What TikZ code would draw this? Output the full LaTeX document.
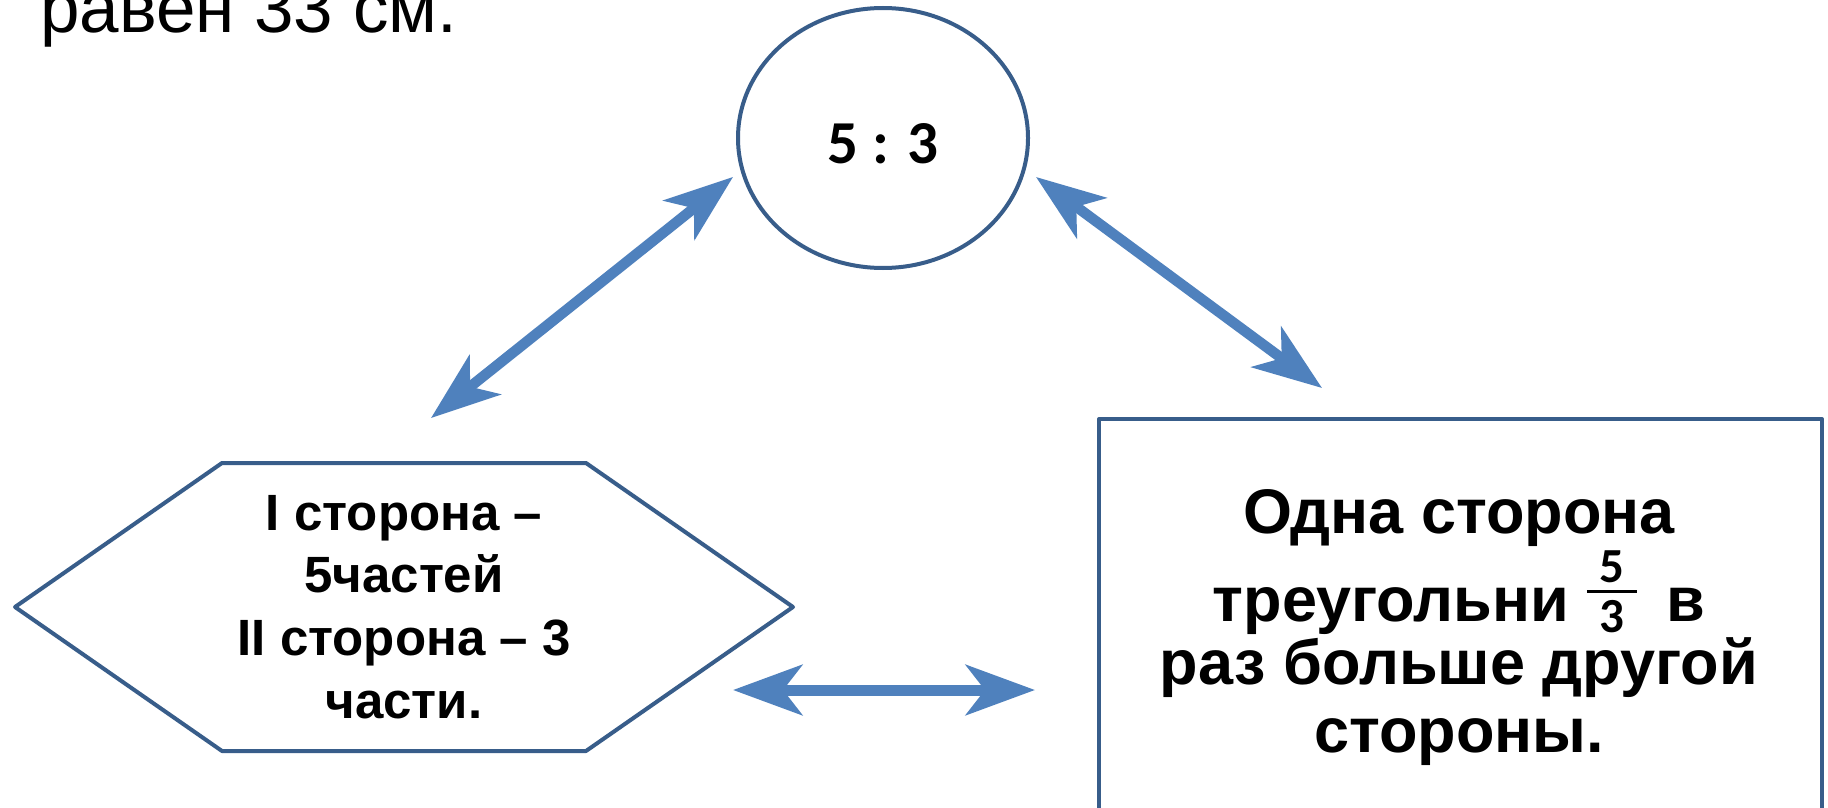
\documentclass[tikz,border=0pt]{standalone}
\usepackage{fontspec}
\setmainfont{Liberation Sans}
\newfontfamily\calib{Carlito}
\usetikzlibrary{arrows.meta,shapes.geometric}
\definecolor{arrowblue}{HTML}{4F81BD}
\definecolor{edgeblue}{HTML}{385D8A}
\newcommand\cl[1]{\hbox to 0pt{\hss#1\hss}}
\newcommand\fracdigit[1]{\hbox to 50pt{\hss\calib\bfseries\fontsize{49}{49}\selectfont #1\hss}}
\newcommand\myfrac[2]{\raisebox{-11pt}{\vbox{\fracdigit{#1}\kern7.5pt\hrule height 3pt\kern6.5pt\fracdigit{#2}}}}
\tikzset{
  shapeline/.style={draw=edgeblue, line width=4pt, line join=round},
  dblarrow/.style={draw=arrowblue, line width=11pt,
    {Stealth[length=69pt,width=50pt,inset=19pt]}-{Stealth[length=69pt,width=50pt,inset=19pt]}},
  txt/.style={inner sep=0pt, anchor=base},
  boxfont/.style={txt, font=\bfseries\fontsize{63}{63}\selectfont}
}
\begin{document}
\begin{tikzpicture}[x=1pt,y=-1pt]
\useasboundingbox (0,0) rectangle (1828,808);
\fill[white] (0,0) rectangle (1828,808);
\clip (0,0) rectangle (1828,808);

% top text
\node[txt, anchor=base west, font=\fontsize{71}{71}\selectfont] (toptext) at (40,33) {равен 33 см.};

% ellipse
\node[ellipse, shapeline, minimum width=290pt, minimum height=260pt, inner sep=0pt] (ratio) at (883,138) {};
\node[txt, font=\calib\bfseries\fontsize{61}{61}\selectfont] (ratiotext) at (883,163) {5 : 3};

% hexagon
\coordinate (h1) at (15,607);
\coordinate (h2) at (222,463);
\coordinate (h3) at (586,463);
\coordinate (h4) at (793,607);
\coordinate (h5) at (586,751);
\coordinate (h6) at (222,751);
\draw[shapeline] (h1) -- (h2) -- (h3) -- (h4) -- (h5) -- (h6) -- cycle;
\node[txt, font=\bfseries\fontsize{51}{51}\selectfont] (hextext) at (404,530)
  {\vtop{\baselineskip=62.7pt\lineskiplimit=-1000pt
   \cl{I сторона –}\cl{5частей}\cl{II сторона – 3}\cl{части.}}};

% rectangle (cut off at the bottom)
\node[shapeline, rectangle, anchor=north west, minimum width=723pt, minimum height=500pt, inner sep=0pt] (box) at (1097,417) {};
\node[boxfont] (boxline1) at (1459,533) {Одна сторона};
\node[boxfont] (boxline2) at (1459,621) {треугольни \myfrac{5}{3}\hspace{12pt} в};
\node[boxfont] (boxline3) at (1459,684) {раз больше другой};
\node[boxfont] (boxline4) at (1459,752) {стороны.};

% arrows
\coordinate (a1) at (431,418);
\coordinate (a2) at (733,177);
\coordinate (b1) at (1036,177);
\coordinate (b2) at (1322,388);
\coordinate (c1) at (733,690);
\coordinate (c2) at (1035,690);
\draw[dblarrow, line width=10.5pt] (a1) -- (a2);
\draw[dblarrow, line width=10.5pt] (b1) -- (b2);
\draw[dblarrow] (c1) -- (c2);
\end{tikzpicture}
\end{document}
